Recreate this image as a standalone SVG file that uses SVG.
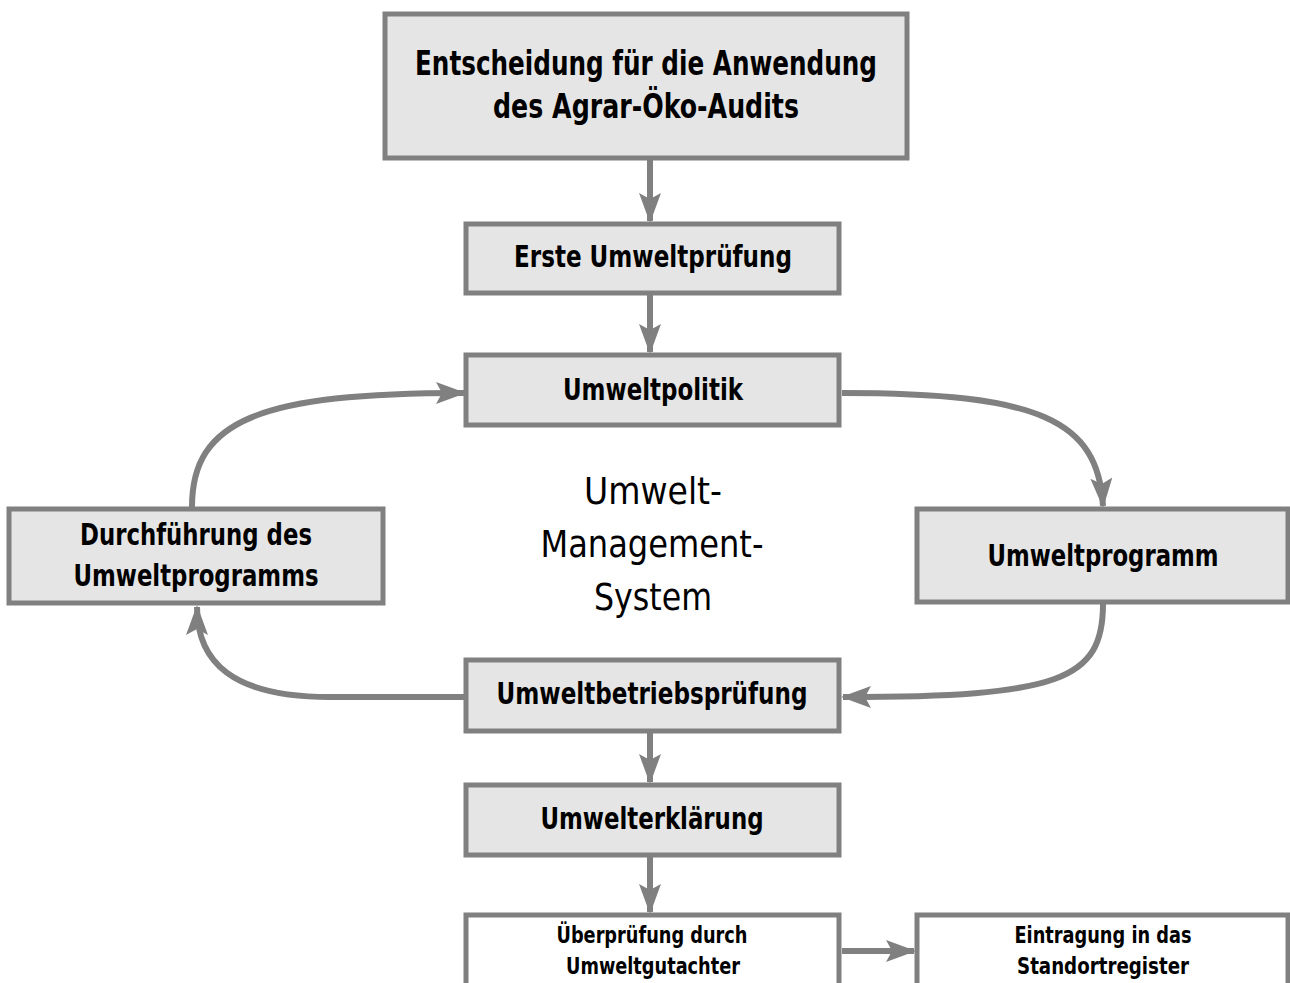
<svg xmlns="http://www.w3.org/2000/svg" width="1290" height="983" viewBox="0 0 1290 983">
<defs>
<style>
.box{fill:#e5e5e5;stroke:#808080;stroke-width:5}
.wbox{fill:#ffffff;stroke:#808080;stroke-width:5}
.t{font-family:"DejaVu Sans Condensed","DejaVu Sans","Liberation Sans",sans-serif;font-stretch:condensed;font-weight:bold;fill:#000;text-anchor:middle}
.c{font-family:"DejaVu Sans Condensed","DejaVu Sans","Liberation Sans",sans-serif;font-stretch:condensed;fill:#000;text-anchor:middle;font-size:38px}
.con{fill:none;stroke:#808080;stroke-width:6;marker-end:url(#ah)}
</style>
<marker id="ah" viewBox="0 0 30 22" refX="28" refY="11" markerWidth="30" markerHeight="22" markerUnits="userSpaceOnUse" orient="auto">
<path d="M0,0 L30,11 L0,22 L6,11 Z" fill="#808080"/>
</marker>
</defs>
<rect width="1290" height="983" fill="#ffffff"/>
<g id="connectors">
<path class="con" d="M650 160 L650 221"/>
<path class="con" d="M650 294 L650 352"/>
<path class="con" d="M842 393 C1040 393 1098 420 1103 506"/>
<path class="con" d="M1103 604 C1103 680 1060 697 843 697"/>
<path class="con" d="M465 697 L330 697 C232 697 197 662 197 607"/>
<path class="con" d="M192 507 C192 420 260 393 464 393"/>
<path class="con" d="M650 733 L650 782"/>
<path class="con" d="M650 857 L650 912"/>
<path class="con" d="M842 951 L914 951"/>
</g>
<g id="n1"><rect class="box" x="385" y="14" width="522" height="144"/>
<text class="t" font-size="34" x="646" y="75" textLength="462" lengthAdjust="spacingAndGlyphs">Entscheidung für die Anwendung</text>
<text class="t" font-size="34" x="646" y="118" textLength="306" lengthAdjust="spacingAndGlyphs">des Agrar-Öko-Audits</text></g>
<g id="n2"><rect class="box" x="466" y="224" width="373" height="69"/>
<text class="t" font-size="30" x="653" y="267" textLength="278" lengthAdjust="spacingAndGlyphs">Erste Umweltprüfung</text></g>
<g id="n3"><rect class="box" x="466" y="355" width="373" height="70"/>
<text class="t" font-size="30" x="653" y="400" textLength="180" lengthAdjust="spacingAndGlyphs">Umweltpolitik</text></g>
<g id="n4"><rect class="box" x="9" y="509" width="374" height="94"/>
<text class="t" font-size="30" x="196" y="545" textLength="232" lengthAdjust="spacingAndGlyphs">Durchführung des</text>
<text class="t" font-size="30" x="196" y="586" textLength="245" lengthAdjust="spacingAndGlyphs">Umweltprogramms</text></g>
<g id="n5"><rect class="box" x="917" y="509" width="371" height="93"/>
<text class="t" font-size="30" x="1103" y="566" textLength="231" lengthAdjust="spacingAndGlyphs">Umweltprogramm</text></g>
<g id="n6"><rect class="box" x="466" y="660" width="373" height="71"/>
<text class="t" font-size="30" x="652" y="704" textLength="311" lengthAdjust="spacingAndGlyphs">Umweltbetriebsprüfung</text></g>
<g id="n7"><rect class="box" x="466" y="785" width="373" height="70"/>
<text class="t" font-size="30" x="652" y="829" textLength="223" lengthAdjust="spacingAndGlyphs">Umwelterklärung</text></g>
<g id="n8"><rect class="wbox" x="466" y="915" width="373" height="80"/>
<text class="t" font-size="23" x="652" y="943" textLength="191" lengthAdjust="spacingAndGlyphs">Überprüfung durch</text>
<text class="t" font-size="23" x="653" y="974" textLength="174" lengthAdjust="spacingAndGlyphs">Umweltgutachter</text></g>
<g id="n9"><rect class="wbox" x="917" y="915" width="371" height="80"/>
<text class="t" font-size="23" x="1103" y="943" textLength="177" lengthAdjust="spacingAndGlyphs">Eintragung in das</text>
<text class="t" font-size="23" x="1103" y="974" textLength="172" lengthAdjust="spacingAndGlyphs">Standortregister</text></g>
<g id="center"><text class="c" x="653" y="504" textLength="138" lengthAdjust="spacingAndGlyphs">Umwelt-</text>
<text class="c" x="652" y="557" textLength="223" lengthAdjust="spacingAndGlyphs">Management-</text>
<text class="c" x="653" y="610" textLength="118" lengthAdjust="spacingAndGlyphs">System</text></g>
</svg>
